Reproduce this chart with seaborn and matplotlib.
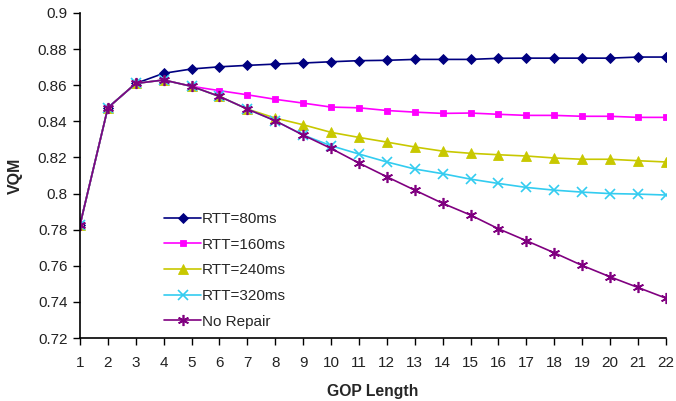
import numpy as np
import pandas as pd
import matplotlib
matplotlib.use("Agg")
import matplotlib.pyplot as plt
from matplotlib.ticker import FuncFormatter
import seaborn as sns

gop = list(range(1, 23))
series_names = ["RTT=80ms", "RTT=160ms", "RTT=240ms", "RTT=320ms", "No Repair"]

rtt80 = [0.7826, 0.8475, 0.8610, 0.8666, 0.8690, 0.8702, 0.8710, 0.8717, 0.8723, 0.8730, 0.8736,
         0.8738, 0.8743, 0.8743, 0.8743, 0.8749, 0.8750, 0.8750, 0.8750, 0.8750, 0.8756, 0.8756]
rtt160 = [0.7826, 0.8475, 0.8610, 0.8629, 0.8594, 0.8570, 0.8547, 0.8522, 0.8501, 0.8479, 0.8475,
          0.8460, 0.8451, 0.8444, 0.8446, 0.8439, 0.8433, 0.8433, 0.8428, 0.8428, 0.8422, 0.8422]
rtt240 = [0.7826, 0.8475, 0.8610, 0.8629, 0.8594, 0.8538, 0.8468, 0.8418, 0.8381, 0.8339, 0.8311,
          0.8285, 0.8258, 0.8235, 0.8223, 0.8215, 0.8208, 0.8197, 0.8190, 0.8190, 0.8182, 0.8175]
rtt320 = [0.7826, 0.8475, 0.8610, 0.8629, 0.8594, 0.8538, 0.8468, 0.8403, 0.8324, 0.8265, 0.8219,
          0.8175, 0.8136, 0.8110, 0.8080, 0.8056, 0.8034, 0.8019, 0.8008, 0.8000, 0.7997, 0.7992]
no_repair = [0.7826, 0.8475, 0.8610, 0.8629, 0.8594, 0.8538, 0.8468, 0.8403, 0.8324, 0.8250, 0.8169,
             0.8093, 0.8019, 0.7946, 0.7881, 0.7805, 0.7739, 0.7672, 0.7602, 0.7539, 0.7480, 0.7421]

y_ticks = [0.72, 0.74, 0.76, 0.78, 0.80, 0.82, 0.84, 0.86, 0.88, 0.90]

colors = {"RTT=80ms": "#000080", "RTT=160ms": "#FF00FF", "RTT=240ms": "#C8C800",
          "RTT=320ms": "#33CCF0", "No Repair": "#800080"}
markers = {"RTT=80ms": "D", "RTT=160ms": "s", "RTT=240ms": "^",
           "RTT=320ms": "x", "No Repair": (6, 2, 0)}
msizes = {"RTT=80ms": 5, "RTT=160ms": 5, "RTT=240ms": 6.5,
          "RTT=320ms": 6.5, "No Repair": 8}

df = pd.DataFrame({
    "GOP": gop * 5,
    "VQM": rtt80 + rtt160 + rtt240 + rtt320 + no_repair,
    "Series": sum([[n] * len(gop) for n in series_names], []),
})

sns.set_theme(style="ticks")
plt.rcParams["font.family"] = ["Liberation Sans", "DejaVu Sans"]

fig = plt.figure(figsize=(6.76, 4.01), dpi=100)
ax = fig.add_axes([0.1183, 0.157, 0.985 - 0.1183, 0.9676 - 0.157])

for name in series_names:
    sub = df[df["Series"] == name]
    kw = dict(markeredgewidth=1.2) if name in ("RTT=320ms", "No Repair") else dict(markeredgewidth=0.6)
    sns.lineplot(data=sub, x="GOP", y="VQM", ax=ax, color=colors[name], linewidth=1.2,
                 marker=markers[name], markersize=msizes[name], markeredgecolor=colors[name],
                 markerfacecolor=colors[name], label=name, **kw)

ax.set_xlim(1, 22)
ax.set_ylim(0.72, 0.9)
ax.set_xticks(gop)
ax.set_yticks(y_ticks)
ax.yaxis.set_major_formatter(FuncFormatter(lambda v, p: f"{v:.2f}".rstrip("0").rstrip(".")))
ax.tick_params(axis="both", labelsize=11, colors="black", length=5, width=1, direction="out", pad=4)
ax.tick_params(axis="x", pad=8)
for s in ("top", "right"):
    ax.spines[s].set_visible(False)
for s in ("left", "bottom"):
    ax.spines[s].set_color("black")
    ax.spines[s].set_linewidth(1.2)

ax.set_xlabel("GOP Length", fontsize=11.3, fontweight="bold", labelpad=10)
ax.set_ylabel("VQM", fontsize=11.5, fontweight="bold", labelpad=11)
for lbl in ax.get_xticklabels() + ax.get_yticklabels():
    lbl.set_color("#222222")

ax.legend(loc="upper left", bbox_to_anchor=(0.232, 0.49), bbox_transform=fig.transFigure,
          frameon=False, fontsize=11, handlelength=2.4, handletextpad=0.05,
          labelspacing=0.76, borderpad=0)

fig.savefig("out.png", dpi=100)
